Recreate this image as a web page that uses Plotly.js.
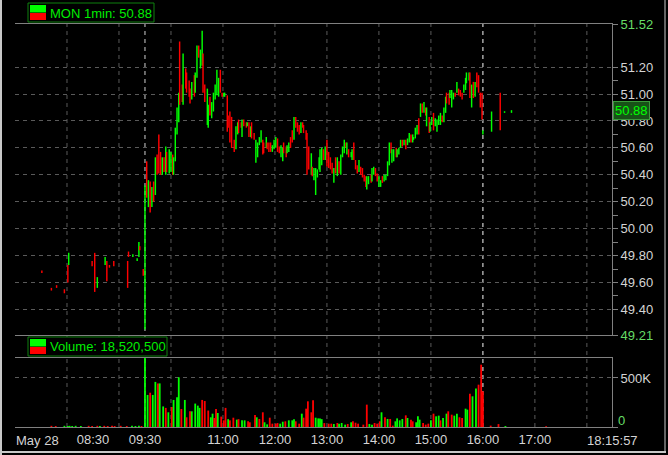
<!DOCTYPE html>
<html><head><meta charset="utf-8">
<script src="https://cdn.plot.ly/plotly-3.0.1.min.js"></script>
<style>html,body{margin:0;padding:0;background:#000;}#chart{width:668px;height:455px;}</style>
</head><body><div id="chart"></div>
<script>
const day = '2013-05-28 ';

// 1-minute bars (sampled): time, high, low, direction (1 = up/green, 0 = down/red)
const barTime = ['07:31','07:42','07:48','07:57','08:01','08:02','08:29','08:32','08:35','08:44','08:46','08:49','08:54','09:10','09:11','09:16','09:21','09:23','09:24','09:28',
'09:30','09:32','09:34','09:36','09:38','09:40','09:42','09:44','09:46','09:48',
'09:50','09:52','09:54','09:55','09:58','10:00','10:02','10:03','10:05','10:07',
'10:09','10:10','10:13','10:14','10:17','10:18','10:21','10:22','10:24','10:27',
'10:28','10:30','10:32','10:34','10:36','10:37','10:39','10:42','10:43','10:45',
'10:47','10:49','10:51','10:53','10:55','10:57','10:59','11:01','11:02','11:05',
'11:06','11:08','11:10','11:13','11:15','11:17','11:18','11:21','11:22','11:24',
'11:27','11:28','11:30','11:32','11:33','11:36','11:38','11:40','11:42','11:44',
'11:46','11:47','11:50','11:51','11:53','11:55','11:57','11:59','12:01','12:03',
'12:05','12:07','12:09','12:10','12:13','12:14','12:16','12:18','12:20','12:22',
'12:24','12:26','12:28','12:30','12:32','12:33','12:36','12:37','12:39','12:42',
'12:43','12:45','12:47','12:49','12:51','12:52','12:54','12:56','12:58','13:00',
'13:02','13:04','13:06','13:08','13:10','13:12','13:14','13:16','13:18','13:20',
'13:22','13:23','13:25','13:28','13:29','13:31','13:33','13:35','13:37','13:39',
'13:41','13:43','13:45','13:46','13:48','13:51','13:52','13:54','13:56','13:58',
'14:00','14:02','14:04','14:06','14:08','14:10','14:12','14:14','14:15','14:17',
'14:20','14:21','14:23','14:25','14:27','14:29','14:31','14:33','14:35','14:37',
'14:39','14:40','14:42','14:44','14:46','14:48','14:50','14:52','14:54','14:55',
'14:58','14:59','15:01','15:03','15:05','15:07','15:09','15:11','15:13','15:15',
'15:17','15:18','15:21','15:22','15:24','15:26','15:28','15:30','15:32','15:34',
'15:36','15:38','15:40','15:41','15:44','15:45','15:47','15:49','15:51','15:53',
'15:55','15:57','15:59','16:00','16:10','16:20','16:25','16:33'];

const barHigh = [49.69,49.56,49.58,49.55,49.73,49.82,49.76,49.82,49.64,49.79,49.76,49.73,49.76,49.76,49.83,49.81,49.78,49.90,49.87,49.70,
50.32,50.50,50.36,50.35,50.31,50.35,50.53,50.55,50.70,50.57,
50.53,50.53,50.61,50.57,50.59,50.57,50.55,50.53,50.75,50.90,
51.01,51.39,51.07,51.30,51.19,51.16,51.10,51.04,51.09,51.14,
51.16,51.36,51.36,51.33,51.47,51.30,51.07,51.04,50.92,50.98,
50.94,51.01,51.07,51.18,51.12,51.18,51.01,51.01,51.01,50.99,
50.84,50.87,50.83,50.66,50.76,50.79,50.81,50.79,50.81,50.81,
50.79,50.79,50.79,50.76,50.79,50.71,50.66,50.64,50.68,50.73,
50.66,50.64,50.68,50.64,50.64,50.64,50.62,50.66,50.68,50.67,
50.61,50.62,50.60,50.64,50.61,50.62,50.64,50.68,50.73,50.83,
50.83,50.79,50.77,50.79,50.79,50.77,50.73,50.71,50.61,50.56,
50.46,50.45,50.45,50.44,50.53,50.59,50.60,50.59,50.61,50.66,
50.57,50.53,50.49,50.45,50.53,50.53,50.50,50.55,50.61,50.66,
50.64,50.64,50.59,50.57,50.59,50.64,50.51,50.47,50.51,50.46,
50.45,50.40,50.39,50.39,50.39,50.40,50.45,50.46,50.45,50.41,
50.39,50.36,50.39,50.40,50.40,50.50,50.64,50.64,50.59,50.59,
50.60,50.59,50.60,50.66,50.66,50.66,50.66,50.67,50.71,50.70,
50.70,50.68,50.75,50.77,50.82,50.93,50.93,50.94,50.90,50.90,
50.83,50.79,50.83,50.86,50.82,50.81,50.84,50.86,50.84,50.90,
50.98,51.01,51.01,51.03,51.03,51.01,51.01,51.09,51.04,51.03,
51.01,51.07,51.12,51.16,51.16,51.16,51.07,51.09,51.09,51.16,
51.14,51.01,51.01,50.73,50.87,51.01,50.87,50.88];

const barLow = [49.67,49.54,49.56,49.52,49.60,49.73,49.72,49.53,49.56,49.73,49.61,49.71,49.72,49.56,49.79,49.79,49.76,49.79,49.84,49.65,
49.25,50.23,50.16,50.12,50.16,50.20,50.25,50.40,50.41,50.40,
50.40,50.42,50.40,50.42,50.41,50.42,50.40,50.40,50.50,50.70,
50.79,50.92,50.94,50.92,51.04,51.01,50.98,50.93,50.96,50.98,
51.01,51.12,51.27,51.19,51.21,51.01,50.94,50.77,50.75,50.84,
50.82,50.87,50.96,50.99,50.98,51.01,50.98,50.98,50.98,50.72,
50.75,50.64,50.60,50.57,50.59,50.70,50.71,50.75,50.68,50.76,
50.75,50.76,50.68,50.68,50.67,50.66,50.49,50.53,50.62,50.64,
50.55,50.56,50.60,50.59,50.57,50.57,50.57,50.59,50.60,50.57,
50.56,50.53,50.50,50.56,50.53,50.56,50.57,50.60,50.64,50.66,
50.75,50.72,50.70,50.71,50.75,50.71,50.66,50.40,50.44,50.40,
50.39,50.36,50.25,50.38,50.44,50.42,50.47,50.51,50.51,50.46,
50.45,50.44,50.41,50.34,50.41,50.39,50.41,50.40,50.53,50.56,
50.60,50.55,50.53,50.53,50.51,50.51,50.44,50.41,50.42,50.40,
50.38,50.35,50.31,50.29,50.33,50.34,50.35,50.40,50.39,50.35,
50.31,50.31,50.34,50.35,50.36,50.39,50.47,50.56,50.49,50.50,
50.53,50.53,50.55,50.60,50.61,50.62,50.59,50.62,50.64,50.64,
50.64,50.66,50.67,50.70,50.70,50.83,50.86,50.86,50.84,50.76,
50.71,50.72,50.77,50.73,50.76,50.72,50.77,50.77,50.79,50.79,
50.86,50.93,50.92,50.97,50.90,50.96,50.98,51.01,50.99,50.98,
50.96,51.01,51.03,51.08,51.10,50.97,50.90,50.97,50.98,51.05,
51.01,50.90,50.81,50.70,50.72,50.73,50.86,50.86];

const barDir = [0,0,0,0,0,1,0,0,1,1,0,0,0,0,0,1,1,1,0,0,
1,0,1,0,1,0,1,0,0,0, 1,0,1,0,1,1,0,1,1,1, 1,0,0,1,0,0,0,0,1,0, 1,1,0,1,1,0,0,1,1,0,
1,1,1,1,1,0,0,1,1,0, 0,0,0,0,1,1,0,0,1,0, 0,1,0,1,0,0,1,1,1,1, 0,0,1,0,0,0,1,1,1,0,
0,1,1,0,0,1,1,0,0,1, 0,0,0,1,0,0,0,0,0,1, 0,1,1,1,1,1,1,0,1,0, 0,0,0,1,0,1,0,1,1,1,
0,1,0,1,1,0,0,0,1,0, 0,0,0,1,1,0,1,1,0,0, 1,1,0,1,1,1,1,0,1,1, 0,1,1,1,0,1,0,1,1,0,
1,1,1,1,0,1,0,1,0,1, 0,1,1,0,1,1,1,1,0,1, 1,0,0,1,1,1,0,1,0,0, 0,1,1,1,1,0,1,0,1,0,
0,0,0,1,1,0,1,1];

// Volume bars (sampled)
const volTime = ['07:42','07:47','07:57','08:01','08:03','08:06','08:10','08:16','08:25','08:29','08:35','08:38','08:43','08:47','08:52','08:55','09:02','09:09','09:15','09:19','09:23','09:26',
'09:30','09:33','09:36','09:39','09:42','09:45','09:47','09:51','09:54','09:57',
'10:01','10:03','10:07','10:09','10:12','10:16','10:18','10:22','10:24','10:28',
'10:31','10:33','10:36','10:39','10:43','10:46','10:48','10:50','10:52','10:54',
'10:58','11:01','11:03','11:06','11:08','11:12','11:16','11:18','11:22','11:25',
'11:29','11:31','11:37','11:39','11:42','11:46','11:48','11:51','11:54','11:57',
'12:01','12:03','12:06','12:09','12:12','12:16','12:20','12:22','12:24','12:28',
'12:31','12:33','12:36','12:38','12:42','12:44','12:47','12:50','12:52','12:54',
'12:57','13:02','13:05','13:08','13:12','13:14','13:17','13:21','13:24','13:28',
'13:30','13:33','13:36','13:42','13:46','13:49','13:52','13:55','13:58','14:01',
'14:03','14:07','14:10','14:13','14:16','14:19','14:21','14:24','14:27','14:31',
'14:33','14:37','14:39','14:43','14:45','14:47','14:51','14:54','14:57','15:00',
'15:03','15:06','15:09','15:11','15:14','15:18','15:20','15:24','15:27','15:30',
'15:33','15:36','15:40','15:42','15:45','15:48','15:52','15:55','15:58','16:00',
'16:09','16:18','16:26','17:13'];

const volValue = [12000,10000,12000,10000,12000,10000,12000,10000,12000,10000,12000,10000,12000,10000,12000,10000,12000,10000,12000,10000,12000,10000,
704000,327000,350000,327000,460000,445000,445000,210000,195000,150000,
204000,276000,303000,507000,184000,276000,99000,160000,160000,239000,
218000,195000,276000,265000,168000,99000,136000,92000,184000,143000,
106000,68000,195000,80000,68000,95000,75000,80000,68000,68000,
58000,48000,122000,99000,82000,150000,48000,27000,95000,34000,
34000,40000,34000,54000,58000,68000,68000,80000,58000,34000,
136000,95000,187000,262000,150000,272000,95000,88000,88000,80000,
40000,34000,34000,31000,41000,34000,41000,24000,31000,48000,
58000,44000,34000,24000,228000,31000,24000,41000,34000,58000,
150000,99000,82000,82000,14000,58000,88000,68000,82000,119000,
92000,75000,58000,48000,109000,75000,41000,24000,34000,68000,
136000,109000,116000,68000,92000,136000,160000,126000,116000,136000,
99000,92000,187000,177000,340000,313000,394000,432000,636000,364000,
14000,30000,10000,8000];

const volDir = [0,0,1,1,1,1,1,1,0,0,0,1,0,0,0,0,0,0,1,1,1,0,
1,1,0,1,1,0,1,1,0,1, 0,1,1,1,0,1,0,0,1,1, 1,1,0,0,0,1,1,0,0,1,
0,0,0,1,0,0,1,0,1,1, 0,0,0,1,0,0,1,1,0,0, 0,0,1,1,0,1,1,1,0,0,
1,0,0,0,0,0,1,1,1,1, 0,0,0,1,0,1,1,1,0,1, 0,0,0,0,0,1,1,0,0,0,
1,0,1,0,0,1,1,1,1,0, 1,0,0,1,1,1,0,0,0,1, 0,1,1,0,1,1,0,0,1,1,
0,0,1,1,0,1,1,0,0,0, 0,0,1,0];

// Axis ticks and labels
const priceTickVals = [49.21,49.40,49.60,49.80,50.00,50.20,50.40,50.60,50.80,51.00,51.20,51.52];
const priceTickLabels = ['49.21','49.40','49.60','49.80','50.00','50.20','50.40','50.60','50.80','51.00','51.20','51.52'];
const priceMinorTicks = [49.50,49.70,49.90,50.10,50.30,50.50,50.70,50.90,51.10];
const volTickVals = [0, 500000];
const volTickLabels = ['0', '500K'];
const timeTicks = ['08:30','09:30','11:00','12:00','13:00','14:00','15:00','16:00','17:00'];
const gridHours = ['08:00','09:00','10:00','11:00','12:00','13:00','14:00','15:00','16:00','17:00','18:00'];
const sessionMarks = ['09:30','16:00'];
const symbolLabel = 'MON 1min: 50.88';
const volumeLabel = 'Volume: 18,520,500';
const lastPrice = 50.88;
const dateLabel = 'May 28';
const clockLabel = '18:15:57';

const UP = '#00ff00', DOWN = '#ff0000';
const LBL = '#d4d4d4', EDGE = '#66dd66', AX = '#808080', GRID = '#5a5a5a';
const FONT = 'Liberation Sans, Arial, sans-serif';

const priceTrace = {
  type: 'bar',
  x: barTime.map(t => day + t),
  base: barLow,
  y: barHigh.map((h, i) => Math.max(+(h - barLow[i]).toFixed(3), 0.012)),
  width: 100000,
  marker: {color: barDir.map(d => d ? UP : DOWN), line: {width: 0}},
  xaxis: 'x2', yaxis: 'y', hoverinfo: 'skip'
};
const volTrace = {
  type: 'bar',
  x: volTime.map(t => day + t),
  y: volValue,
  width: 125000,
  marker: {color: volDir.map(d => d ? UP : DOWN), line: {width: 0}},
  xaxis: 'x', yaxis: 'y2', hoverinfo: 'skip'
};

// pixel helpers for paper coords (plot area: x 15..612, y 24..427)
const px = x => (x - 15) / 597;
const py = y => (427 - y) / 403;

const shapes = [];
gridHours.forEach(h => shapes.push({type:'line', xref:'x', yref:'paper', x0: day+h, x1: day+h, y0: 0, y1: 1,
  line:{color: GRID, width: 1, dash: '4px,4px'}, layer: 'below'}));
sessionMarks.forEach(h => shapes.push({type:'line', xref:'x', yref:'paper', x0: day+h, x1: day+h, y0: 0, y1: 1,
  line:{color: '#d0d0d0', width: 1, dash: '4px,4px'}, layer: 'below'}));
// legend boxes
function legendBox(x0, x1, y0, y1) {
  shapes.push({type:'rect', xref:'paper', yref:'paper', x0: px(x0), x1: px(x1), y0: py(y1), y1: py(y0),
    fillcolor:'#000', line:{color:'#0f800f', width:1}, layer:'above'});
  shapes.push({type:'rect', xref:'paper', yref:'paper', x0: px(x0+2), x1: px(x0+18), y0: py(y0+9.5), y1: py(y0+2),
    fillcolor: UP, line:{width:0}, layer:'above'});
  shapes.push({type:'rect', xref:'paper', yref:'paper', x0: px(x0+2), x1: px(x0+18), y0: py(y1-2), y1: py(y0+10),
    fillcolor: DOWN, line:{width:0}, layer:'above'});
}
legendBox(28, 154, 3, 22);
legendBox(28, 167, 337, 356);
// window frame
shapes.push({type:'line', xref:'paper', yref:'paper', x0: px(1), x1: px(1), y0: py(456), y1: py(0), line:{color:'#c8c8c8', width:2}});
shapes.push({type:'line', xref:'paper', yref:'paper', x0: px(0), x1: px(666), y0: py(452), y1: py(452), line:{color:'#c8c8c8', width:2}});
shapes.push({type:'line', xref:'paper', yref:'paper', x0: px(665), x1: px(665), y0: py(452), y1: py(0), line:{color:'#c8c8c8', width:1}});

const annotations = [
  {xref:'paper', yref:'paper', x: px(48), y: py(13), xanchor:'left', yanchor:'middle', text: symbolLabel, showarrow:false,
   font:{family: FONT, size: 13, color: '#00ee00'}},
  {xref:'paper', yref:'paper', x: px(48), y: py(346.5), xanchor:'left', yanchor:'middle', text: volumeLabel, showarrow:false,
   font:{family: FONT, size: 13, color: '#00ee00'}},
  {xref:'paper', yref:'y', x: 1, y: lastPrice, xanchor:'left', yanchor:'middle', xshift: 1, text: lastPrice.toFixed(2), showarrow:false,
   bgcolor:'#175217', bordercolor:'#3a9a3a', borderwidth:1, borderpad:1, font:{family: FONT, size: 13, color: '#00ff00'}},
  {xref:'paper', yref:'y2', x: 1, y: 0, xanchor:'left', yanchor:'middle', xshift: 4, yshift: 7, text: volTickLabels[0], showarrow:false,
   font:{family: FONT, size: 13, color: EDGE}},
  {xref:'paper', yref:'paper', x: 0, y: py(440), xanchor:'left', yanchor:'middle', xshift: -1, text: dateLabel, showarrow:false,
   font:{family: FONT, size: 13, color: LBL}},
  {xref:'paper', yref:'paper', x: 1, y: py(440), xanchor:'center', yanchor:'middle', text: clockLabel, showarrow:false,
   font:{family: FONT, size: 13, color: LBL}}
];

const layout = {
  width: 668, height: 455,
  margin: {l: 15, r: 56, t: 24, b: 28, pad: 0},
  paper_bgcolor: '#000', plot_bgcolor: '#000',
  showlegend: false, barmode: 'overlay',
  font: {family: FONT, size: 13, color: LBL},
  xaxis: {type:'date', domain:[0,1], anchor:'y2', range:[day+'07:00', day+'18:29'],
    tickmode:'array', tickvals: timeTicks.map(t => day + t), ticktext: timeTicks, ticks:'',
    showgrid:false, zeroline:false, showline:true, mirror:true, linecolor: AX, linewidth:1,
    tickfont:{family: FONT, size: 13, color: LBL}, fixedrange:true},
  xaxis2: {type:'date', domain:[0,1], anchor:'y', matches:'x', showticklabels:false, ticks:'',
    showgrid:false, zeroline:false, showline:true, mirror:true, linecolor: AX, linewidth:1},
  yaxis: {domain:[py(335), 1], anchor:'x2', side:'right', range:[49.21, 51.52],
    tickmode:'array', tickvals: priceTickVals,
    ticktext: priceTickLabels.map((t, i) => (i === 0 || i === priceTickLabels.length - 1) ? '<span style="color:' + EDGE + '">' + t + '</span>' : t),
    ticks:'outside', ticklen:5, tickcolor: AX, showline:true, linecolor: AX, linewidth:1,
    showgrid:true, gridcolor: GRID, griddash:'4px,4px', zeroline:false,
    tickfont:{family: FONT, size: 13, color: LBL},
    minor:{tickmode:'array', tickvals: priceMinorTicks, ticks:'outside', ticklen:5, tickcolor: AX, showgrid:false}},
  yaxis2: {domain:[0, py(358)], anchor:'x', side:'right', range:[0, 704000],
    tickmode:'array', tickvals: volTickVals, ticktext: ['', volTickLabels[1]],
    ticks:'outside', ticklen:5, tickcolor: AX, showline:true, linecolor: AX, linewidth:1,
    showgrid:true, gridcolor: GRID, griddash:'4px,4px', zeroline:false,
    tickfont:{family: FONT, size: 13, color: LBL}},
  shapes: shapes,
  annotations: annotations
};

Plotly.newPlot('chart', [volTrace, priceTrace], layout, {staticPlot: true, displayModeBar: false});
</script>
</body></html>
